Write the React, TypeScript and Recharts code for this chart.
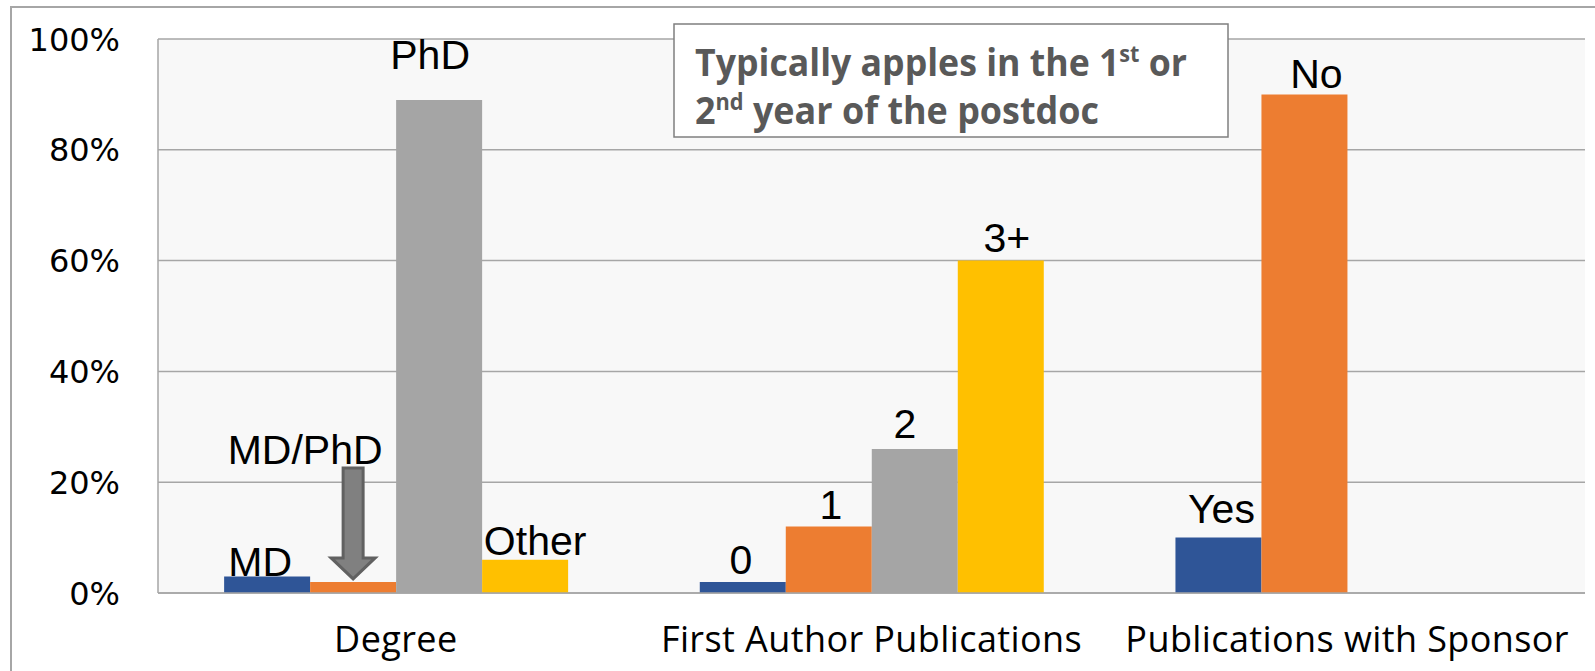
import React from "react";
import {
  Bar,
  BarChart,
  CartesianGrid,
  LabelList,
  XAxis,
  YAxis,
} from "recharts";

if (typeof document !== "undefined") {
  document.body.style.margin = "0";
}

const categories = [
  "Degree",
  "First Author Publications",
  "Publications with Sponsor",
];

// one series per bar slot inside each group
const slot1 = [3, 2, 10];
const slot2 = [2, 12, 90];
const slot3 = [89, 26, null];
const slot4 = [6, 60, null];

const slot1Labels = ["MD", "0", "Yes"];
const slot2Labels = ["MD/PhD", "1", "No"];
const slot3Labels = ["PhD", "2", ""];
const slot4Labels = ["Other", "3+", ""];

const yTicks = [0, 20, 40, 60, 80, 100];

const data = categories.map((category, i) => ({
  category,
  s1: slot1[i],
  s2: slot2[i],
  s3: slot3[i],
  s4: slot4[i],
}));

// hand placed label nudges, like the original slide
const nudges: Record<string, [number, number]> = {
  MD: [-7, 0],
  "MD/PhD": [-48, -118],
  PhD: [-9, -31],
  Other: [10, -5],
  "0": [-2, -8],
  "1": [2, -8],
  "2": [-10, -11],
  "3+": [6, -9],
  Yes: [3, -15],
  No: [12, -6],
};

const makeLabel = (labels: string[]) => (props: any) => {
  const { x, y, width, index, value } = props;
  const text = labels[index];
  if (value == null || !text) return null;
  const cx = Number(x) + Number(width) / 2;
  const top = Number(y);
  const [dx, dy] = nudges[text] || [0, -8];
  return (
    <g>
      {text === "MD/PhD" && (
        <polygon
          points={[
            [cx - 10, top - 114],
            [cx + 10, top - 114],
            [cx + 10, top - 24],
            [cx + 22, top - 24],
            [cx, top - 3],
            [cx - 22, top - 24],
            [cx - 10, top - 24],
          ]
            .map((p) => p.join(","))
            .join(" ")}
          fill="#808080"
          stroke="#616161"
          strokeWidth={3}
        />
      )}
      <text
        x={cx + dx}
        y={top + dy}
        textAnchor="middle"
        fontFamily="'Liberation Sans', Arial, sans-serif"
        fontSize={41}
        fill="#000"
      >
        {text}
      </text>
    </g>
  );
};

const YTick = ({ x, y, payload }: any) => (
  <text
    x={x}
    y={y}
    dy="0.36em"
    textAnchor="end"
    fontFamily="'DejaVu Sans', sans-serif"
    fontSize={32}
    fill="#000"
  >
    {payload.value}%
  </text>
);

const XTick = ({ x, y, payload }: any) => (
  <text
    x={x}
    y={y + 51}
    textAnchor="middle"
    fontFamily="'Open Sans', sans-serif"
    fontSize={36}
    letterSpacing={0.4}
    fill="#000"
  >
    {payload.value}
  </text>
);

export default function App() {
  return (
    <div
      style={{
        position: "relative",
        width: 1595,
        height: 671,
        background: "#fff",
        overflow: "hidden",
      }}
    >
      <div
        style={{
          position: "absolute",
          left: 10,
          top: 6,
          width: 1620,
          height: 700,
          border: "2px solid #a6a6a6",
        }}
      />
      <BarChart
        width={1595}
        height={671}
        data={data}
        margin={{ top: 39, right: 10, bottom: 0, left: 0 }}
        barGap={0}
        barCategoryGap="13.9%"
        style={{ position: "absolute", left: 0, top: 0 }}
      >
        <CartesianGrid
          vertical={false}
          stroke="#a6a6a6"
          strokeWidth={1.5}
          fill="#f8f8f8"
        />
        <XAxis
          dataKey="category"
          height={78}
          tickLine={false}
          axisLine={{ stroke: "#a6a6a6", strokeWidth: 1.5 }}
          tick={<XTick />}
          interval={0}
        />
        <YAxis
          width={158}
          domain={[0, 100]}
          ticks={yTicks}
          tickLine={false}
          tickMargin={32}
          axisLine={{ stroke: "#a6a6a6", strokeWidth: 1.5 }}
          tick={<YTick />}
        />
        <Bar dataKey="s1" fill="#2f5597" isAnimationActive={false}>
          <LabelList dataKey="s1" content={makeLabel(slot1Labels)} />
        </Bar>
        <Bar dataKey="s2" fill="#ed7d31" isAnimationActive={false}>
          <LabelList dataKey="s2" content={makeLabel(slot2Labels)} />
        </Bar>
        <Bar dataKey="s3" fill="#a5a5a5" isAnimationActive={false}>
          <LabelList dataKey="s3" content={makeLabel(slot3Labels)} />
        </Bar>
        <Bar dataKey="s4" fill="#ffc000" isAnimationActive={false}>
          <LabelList dataKey="s4" content={makeLabel(slot4Labels)} />
        </Bar>
      </BarChart>
      <svg
        width={556}
        height={115}
        style={{ position: "absolute", left: 673, top: 23 }}
      >
        <rect
          x={1}
          y={1}
          width={554}
          height={113}
          fill="#fff"
          stroke="#7f7f7f"
          strokeWidth={1.5}
        />
        <g
          fontFamily="'Open Sans', sans-serif"
          fontWeight="bold"
          fontSize={38}
          fill="#595959"
        >
          <text x={22} y={53} textLength={492} lengthAdjust="spacingAndGlyphs">
            Typically apples in the 1
            <tspan fontSize={23} dy={-14}>
              st
            </tspan>
            <tspan dy={14}> or</tspan>
          </text>
          <text x={22} y={101} textLength={404} lengthAdjust="spacingAndGlyphs">
            2
            <tspan fontSize={23} dy={-14}>
              nd
            </tspan>
            <tspan dy={14}> year of the postdoc</tspan>
          </text>
        </g>
      </svg>
    </div>
  );
}
